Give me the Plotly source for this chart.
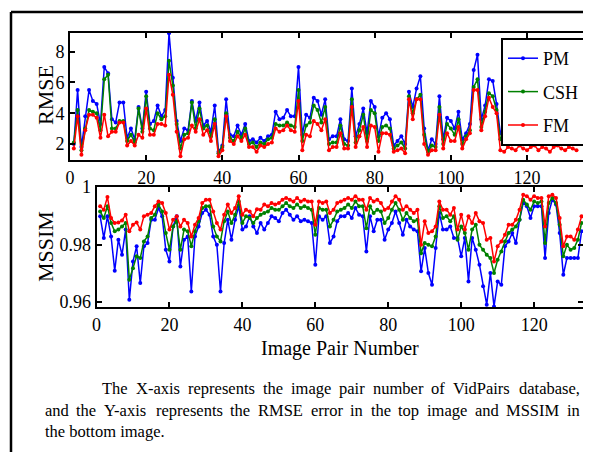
import plotly.graph_objects as go

# ---------------- data ----------------
image_pair = list(range(1, 134))

rmse_pm = [2.0, 5.5, 1.8, 3.8, 5.5, 4.8, 4.6, 3.3, 7.0, 6.6, 3.6, 3.4, 4.7, 4.7, 2.4, 3.0, 2.3, 4.4, 3.0, 5.4,
           3.3, 3.5, 4.5, 3.8, 4.2, 9.2, 6.3, 3.5, 2.2, 3.0, 2.9, 4.8, 3.5, 4.7, 3.2, 3.5, 2.8, 4.5, 1.5, 1.9,
           4.9, 2.6, 2.5, 3.2, 2.6, 3.3, 2.2, 2.3, 2.1, 2.4, 2.2, 2.5, 2.6, 4.1, 3.6, 3.7, 4.2, 3.8, 3.8, 7.0,
           2.6, 3.9, 3.7, 5.0, 4.8, 3.9, 4.9, 2.3, 2.5, 2.5, 3.6, 2.3, 2.2, 5.6, 2.5, 3.3, 4.3, 2.7, 4.8, 4.4,
           2.5, 3.7, 4.0, 3.6, 1.9, 2.2, 2.5, 2.0, 5.4, 4.4, 5.6, 6.4, 3.0, 1.6, 2.3, 2.0, 5.1, 2.3, 3.7, 3.5,
           3.0, 4.1, 2.3, 2.7, 3.3, 6.8, 7.8, 3.6, 4.5, 6.2, 6.1, 4.6, 2.7, 3.2, 2.9, 3.5, 2.8, 3.4, 3.0, 2.7,
           3.6, 3.1, 2.8, 3.3, 3.0, 2.9, 3.4, 3.1, 2.8, 3.2, 3.0, 2.9, 3.3]
rmse_csh = [2.1, 4.2, 1.6, 3.0, 4.2, 4.1, 4.0, 2.9, 6.2, 6.5, 3.0, 3.0, 3.5, 3.5, 2.2, 2.6, 2.1, 4.3, 2.8, 5.1,
            3.0, 2.9, 4.0, 3.6, 3.8, 7.4, 5.8, 3.3, 1.7, 2.6, 2.7, 4.7, 3.0, 4.3, 3.0, 3.2, 2.5, 3.6, 1.4, 1.8,
            4.0, 2.4, 2.2, 2.8, 2.4, 3.0, 2.0, 2.1, 1.8, 2.1, 2.0, 2.3, 2.4, 3.3, 3.2, 3.2, 3.4, 3.2, 3.1, 5.5,
            2.2, 3.2, 3.4, 4.5, 4.2, 3.4, 4.4, 2.0, 2.1, 2.1, 3.2, 2.0, 1.9, 4.9, 2.1, 2.9, 3.9, 2.2, 4.2, 4.0,
            2.2, 3.1, 3.2, 3.0, 1.7, 1.9, 2.1, 1.7, 5.1, 4.0, 4.9, 5.2, 2.6, 1.5, 1.9, 1.8, 4.4, 2.0, 3.3, 3.0,
            2.6, 3.6, 2.0, 2.5, 2.9, 5.7, 6.2, 3.1, 4.1, 5.3, 5.1, 4.2, 2.3, 2.7, 2.5, 2.9, 2.4, 2.8, 2.6, 2.4,
            3.0, 2.7, 2.4, 2.8, 2.6, 2.5, 2.9, 2.7, 2.4, 2.7, 2.6, 2.5, 2.8]
rmse_fm = [1.7, 3.8, 1.3, 2.9, 3.9, 3.9, 3.7, 2.4, 3.9, 2.5, 2.8, 2.8, 3.4, 3.4, 1.9, 2.2, 1.9, 2.6, 2.4, 4.3,
           2.6, 2.6, 3.3, 3.3, 3.2, 6.5, 5.2, 2.8, 1.2, 2.3, 2.4, 3.2, 2.8, 3.6, 2.6, 2.9, 2.2, 3.3, 1.2, 1.6,
           3.8, 2.2, 2.0, 2.5, 2.2, 2.6, 1.8, 1.8, 1.5, 1.9, 1.8, 2.0, 2.1, 3.0, 2.8, 2.9, 3.2, 2.9, 2.8, 4.8,
           1.6, 2.6, 2.5, 3.5, 3.3, 2.9, 3.6, 1.6, 1.8, 1.8, 2.7, 1.7, 1.7, 4.4, 1.8, 2.5, 3.1, 1.8, 3.2, 3.1,
           1.5, 2.7, 2.7, 2.6, 1.5, 1.6, 1.7, 1.4, 4.9, 3.6, 4.9, 4.9, 2.0, 1.3, 1.6, 1.6, 3.9, 1.7, 2.7, 2.2,
           2.2, 3.1, 1.7, 2.3, 2.7, 5.5, 5.5, 2.9, 3.8, 5.0, 4.4, 4.0, 1.6, 1.5, 1.8, 1.7, 1.6, 1.9, 1.7, 1.6,
           1.8, 1.9, 1.6, 1.8, 1.7, 1.5, 1.8, 1.9, 1.7, 1.6, 1.8, 1.7, 1.6]

mssim_pm = [0.9898, 0.9823, 0.9898, 0.9828, 0.9709, 0.9817, 0.9765, 0.9852, 0.9608, 0.9741,
            0.9794, 0.9666, 0.9794, 0.9805, 0.9886, 0.9886, 0.9927, 0.9898, 0.9782, 0.9741,
            0.9863, 0.9898, 0.9724, 0.9817, 0.9828, 0.9637, 0.9828, 0.9863, 0.9910, 0.9921,
            0.9904, 0.9828, 0.9799, 0.9637, 0.9805, 0.9886, 0.9817, 0.9886, 0.9933, 0.9852,
            0.9863, 0.9898, 0.9863, 0.9840, 0.9875, 0.9852, 0.9875, 0.9898, 0.9892, 0.9881,
            0.9910, 0.9921, 0.9904, 0.9886, 0.9898, 0.9881, 0.9886, 0.9881, 0.9875, 0.9730,
            0.9898, 0.9886, 0.9898, 0.9805, 0.9828, 0.9881, 0.9898, 0.9898, 0.9910, 0.9892,
            0.9927, 0.9904, 0.9898, 0.9776, 0.9898, 0.9846, 0.9886, 0.9886, 0.9817, 0.9852,
            0.9875, 0.9915, 0.9875, 0.9834, 0.9886, 0.9863, 0.9852, 0.9846, 0.9707, 0.9788,
            0.9701, 0.9660, 0.9788, 0.9910, 0.9852, 0.9852, 0.9863, 0.9823, 0.9823, 0.9759,
            0.9823, 0.9672, 0.9823, 0.9782, 0.9730, 0.9655, 0.9591, 0.9701, 0.9585, 0.9672,
            0.9660, 0.9794, 0.9811, 0.9840, 0.9805, 0.9886, 0.9944, 0.9933, 0.9892, 0.9933,
            0.9933, 0.9933, 0.9753, 0.9910, 0.9956, 0.9939, 0.9840, 0.9695, 0.9753, 0.9753,
            0.9753, 0.9753, 0.9846]
mssim_csh = [0.9915, 0.9892, 0.9933, 0.9875, 0.9846, 0.9852, 0.9863, 0.9875, 0.9678, 0.9718,
             0.9759, 0.9753, 0.9811, 0.9828, 0.9892, 0.9904, 0.9939, 0.9915, 0.9840, 0.9782,
             0.9863, 0.9881, 0.9782, 0.9852, 0.9846, 0.9794, 0.9846, 0.9881, 0.9927, 0.9933,
             0.9933, 0.9863, 0.9828, 0.9811, 0.9881, 0.9915, 0.9875, 0.9904, 0.9950, 0.9875,
             0.9898, 0.9892, 0.9875, 0.9892, 0.9904, 0.9910, 0.9915, 0.9927, 0.9921, 0.9921,
             0.9933, 0.9944, 0.9933, 0.9927, 0.9939, 0.9927, 0.9933, 0.9927, 0.9921, 0.9834,
             0.9927, 0.9921, 0.9921, 0.9863, 0.9886, 0.9915, 0.9921, 0.9927, 0.9939, 0.9927,
             0.9950, 0.9933, 0.9933, 0.9857, 0.9933, 0.9910, 0.9921, 0.9915, 0.9875, 0.9892,
             0.9921, 0.9944, 0.9921, 0.9886, 0.9910, 0.9892, 0.9881, 0.9886, 0.9770, 0.9805,
             0.9799, 0.9794, 0.9828, 0.9933, 0.9892, 0.9898, 0.9881, 0.9898, 0.9817, 0.9863,
             0.9840, 0.9782, 0.9852, 0.9869, 0.9799, 0.9782, 0.9765, 0.9753, 0.9701, 0.9747,
             0.9776, 0.9811, 0.9840, 0.9852, 0.9863, 0.9886, 0.9956, 0.9939, 0.9921, 0.9950,
             0.9944, 0.9950, 0.9805, 0.9944, 0.9962, 0.9944, 0.9869, 0.9759, 0.9799, 0.9782,
             0.9788, 0.9817, 0.9875]
mssim_fm = [0.9933, 0.9921, 0.9965, 0.9892, 0.9875, 0.9877, 0.9884, 0.9904, 0.9846, 0.9869,
            0.9877, 0.9852, 0.9898, 0.9904, 0.9910, 0.9933, 0.9950, 0.9944, 0.9910, 0.9852,
            0.9886, 0.9898, 0.9863, 0.9886, 0.9875, 0.9828, 0.9869, 0.9892, 0.9944, 0.9956,
            0.9956, 0.9915, 0.9875, 0.9852, 0.9904, 0.9939, 0.9910, 0.9927, 0.9968, 0.9904,
            0.9921, 0.9915, 0.9898, 0.9923, 0.9921, 0.9939, 0.9933, 0.9944, 0.9939, 0.9944,
            0.9956, 0.9962, 0.9956, 0.9950, 0.9962, 0.9950, 0.9956, 0.9950, 0.9950, 0.9869,
            0.9950, 0.9944, 0.9950, 0.9910, 0.9921, 0.9944, 0.9950, 0.9956, 0.9962, 0.9956,
            0.9968, 0.9956, 0.9956, 0.9921, 0.9962, 0.9950, 0.9956, 0.9944, 0.9921, 0.9927,
            0.9950, 0.9968, 0.9956, 0.9921, 0.9933, 0.9921, 0.9910, 0.9921, 0.9799, 0.9881,
            0.9840, 0.9846, 0.9863, 0.9950, 0.9921, 0.9921, 0.9904, 0.9927, 0.9852, 0.9904,
            0.9852, 0.9898, 0.9875, 0.9910, 0.9881, 0.9875, 0.9817, 0.9823, 0.9741, 0.9794,
            0.9811, 0.9834, 0.9869, 0.9869, 0.9886, 0.9921, 0.9973, 0.9968, 0.9956, 0.9968,
            0.9962, 0.9962, 0.9863, 0.9968, 0.9973, 0.9962, 0.9892, 0.9794, 0.9828, 0.9828,
            0.9817, 0.9852, 0.9898]

series_names = ["PM", "CSH", "FM"]
series_colors = ["#0000ff", "#008000", "#ff0000"]

x_ticks = [0, 20, 40, 60, 80, 100, 120]
rmse_ticks = [2, 4, 6, 8]
mssim_ticks = [0.96, 0.98, 1.0]
mssim_ticklabels = ["0.96", "0.98", "1"]

caption_lines = [
    "The X-axis represents the image pair number of VidPairs database,",
    "and the Y-axis represents the RMSE error in the top image and MSSIM in",
    "the bottom image.",
]

# ---------------- figure ----------------
W, H = 591, 452
OFF = 8          # page offset of the figure div (default body margin)
FONT = "Liberation Serif"


def px_x(p):
    return (p - OFF) / W


def px_y(p):
    return 1 - (p - OFF) / H


fig = go.Figure()

for name, color, vals in zip(series_names, series_colors, [rmse_pm, rmse_csh, rmse_fm]):
    fig.add_trace(go.Scatter(
        x=image_pair, y=vals, name=name, mode="lines+markers",
        line=dict(color=color, width=1.5), marker=dict(color=color, size=4),
        xaxis="x", yaxis="y", legendgroup=name, showlegend=True))

for name, color, vals in zip(series_names, series_colors, [mssim_pm, mssim_csh, mssim_fm]):
    fig.add_trace(go.Scatter(
        x=image_pair, y=vals, name=name, mode="lines+markers",
        line=dict(color=color, width=1.5), marker=dict(color=color, size=4),
        xaxis="x2", yaxis="y2", legendgroup=name, showlegend=False))

axis_common = dict(
    showline=True, linecolor="black", linewidth=2, mirror="ticks",
    ticks="inside", ticklen=5, tickwidth=1.5, tickcolor="black",
    showgrid=False, zeroline=False, automargin=False,
    tickfont=dict(family=FONT, size=18, color="black"),
)

fig.update_layout(
    width=W, height=H,
    margin=dict(l=0, r=0, t=0, b=0),
    paper_bgcolor="white", plot_bgcolor="white",
    font=dict(family=FONT, color="black"),
    xaxis=dict(domain=[px_x(70), px_x(583)], range=[0, 134.7], anchor="y",
               tickvals=x_ticks, **axis_common),
    yaxis=dict(domain=[px_y(160), px_y(33)], range=[0.96, 9.21], anchor="x",
               tickvals=rmse_ticks, **axis_common),
    xaxis2=dict(domain=[px_x(96.5), px_x(583)], range=[0, 133.4], anchor="y2",
                tickvals=x_ticks, **axis_common),
    yaxis2=dict(domain=[px_y(307), px_y(187)], range=[0.9583, 1.0], anchor="x2",
                tickvals=mssim_ticks, ticktext=mssim_ticklabels, **axis_common),
    legend=dict(x=px_x(501), y=px_y(38), xanchor="left", yanchor="top",
                bgcolor="white", bordercolor="black", borderwidth=2,
                font=dict(family=FONT, size=18, color="black"),
                tracegroupgap=7, itemwidth=30),
    showlegend=True,
)

# Times / Liberation Serif advance widths (1/1000 em) for justified caption layout
CHAR_W = {
    " ": 250, ",": 250, "-": 333, ".": 250,
    "E": 611, "I": 333, "M": 889, "P": 556, "R": 667, "S": 556, "T": 611, "V": 722,
    "X": 722, "Y": 722,
    "a": 444, "b": 500, "d": 500, "e": 444, "f": 333, "g": 500, "h": 500, "i": 278,
    "m": 778, "n": 500, "o": 500, "p": 500, "r": 333, "s": 389, "t": 278, "u": 500,
    "x": 500,
}


def text_w(s, size):
    return sum(CHAR_W.get(c, 500) for c in s) * size / 1000.0


CAP_SIZE = 16.5
cap_font = dict(family=FONT, size=CAP_SIZE, color="black")
# (text, left px, right px or None for ragged, centre y px)
caption_layout = [
    (caption_lines[0], 100, 578, 388),
    (caption_lines[1], 43, 578, 410),
    (caption_lines[2], 43, None, 431),
]

annotations = [
    dict(text="RMSE", x=px_x(45), y=px_y(95), textangle=-90,
         font=dict(family=FONT, size=22, color="black")),
    dict(text="MSSIM", x=px_x(45), y=px_y(247), textangle=-90,
         font=dict(family=FONT, size=22, color="black")),
    dict(text="Image Pair Number", x=px_x(340), y=px_y(348),
         font=dict(family=FONT, size=20, color="black")),
]

for text, left, right, yc in caption_layout:
    words = text.split(" ")
    if right is None:
        annotations.append(dict(text=text, x=px_x(left), y=px_y(yc), xanchor="left",
                                font=cap_font))
        continue
    widths = [text_w(w, CAP_SIZE) for w in words]
    gap = (right - left - sum(widths)) / (len(words) - 1)
    xpos = left
    for w, wd in zip(words, widths):
        annotations.append(dict(text=w, x=px_x(xpos), y=px_y(yc), xanchor="left",
                                font=cap_font))
        xpos += wd + gap

for a in annotations:
    a.update(xref="paper", yref="paper", showarrow=False)
    a.setdefault("xanchor", "center")
    a.setdefault("yanchor", "middle")
fig.update_layout(annotations=annotations)

# outer frame (top and left edges of the bordered figure box)
fig.add_shape(type="line", xref="paper", yref="paper",
              x0=px_x(11), x1=1.0, y0=px_y(12), y1=px_y(12),
              line=dict(color="black", width=2.5))
fig.add_shape(type="line", xref="paper", yref="paper",
              x0=px_x(11), x1=px_x(11), y0=px_y(12), y1=0.0,
              line=dict(color="black", width=2.5))

fig.write_html("out.html")
